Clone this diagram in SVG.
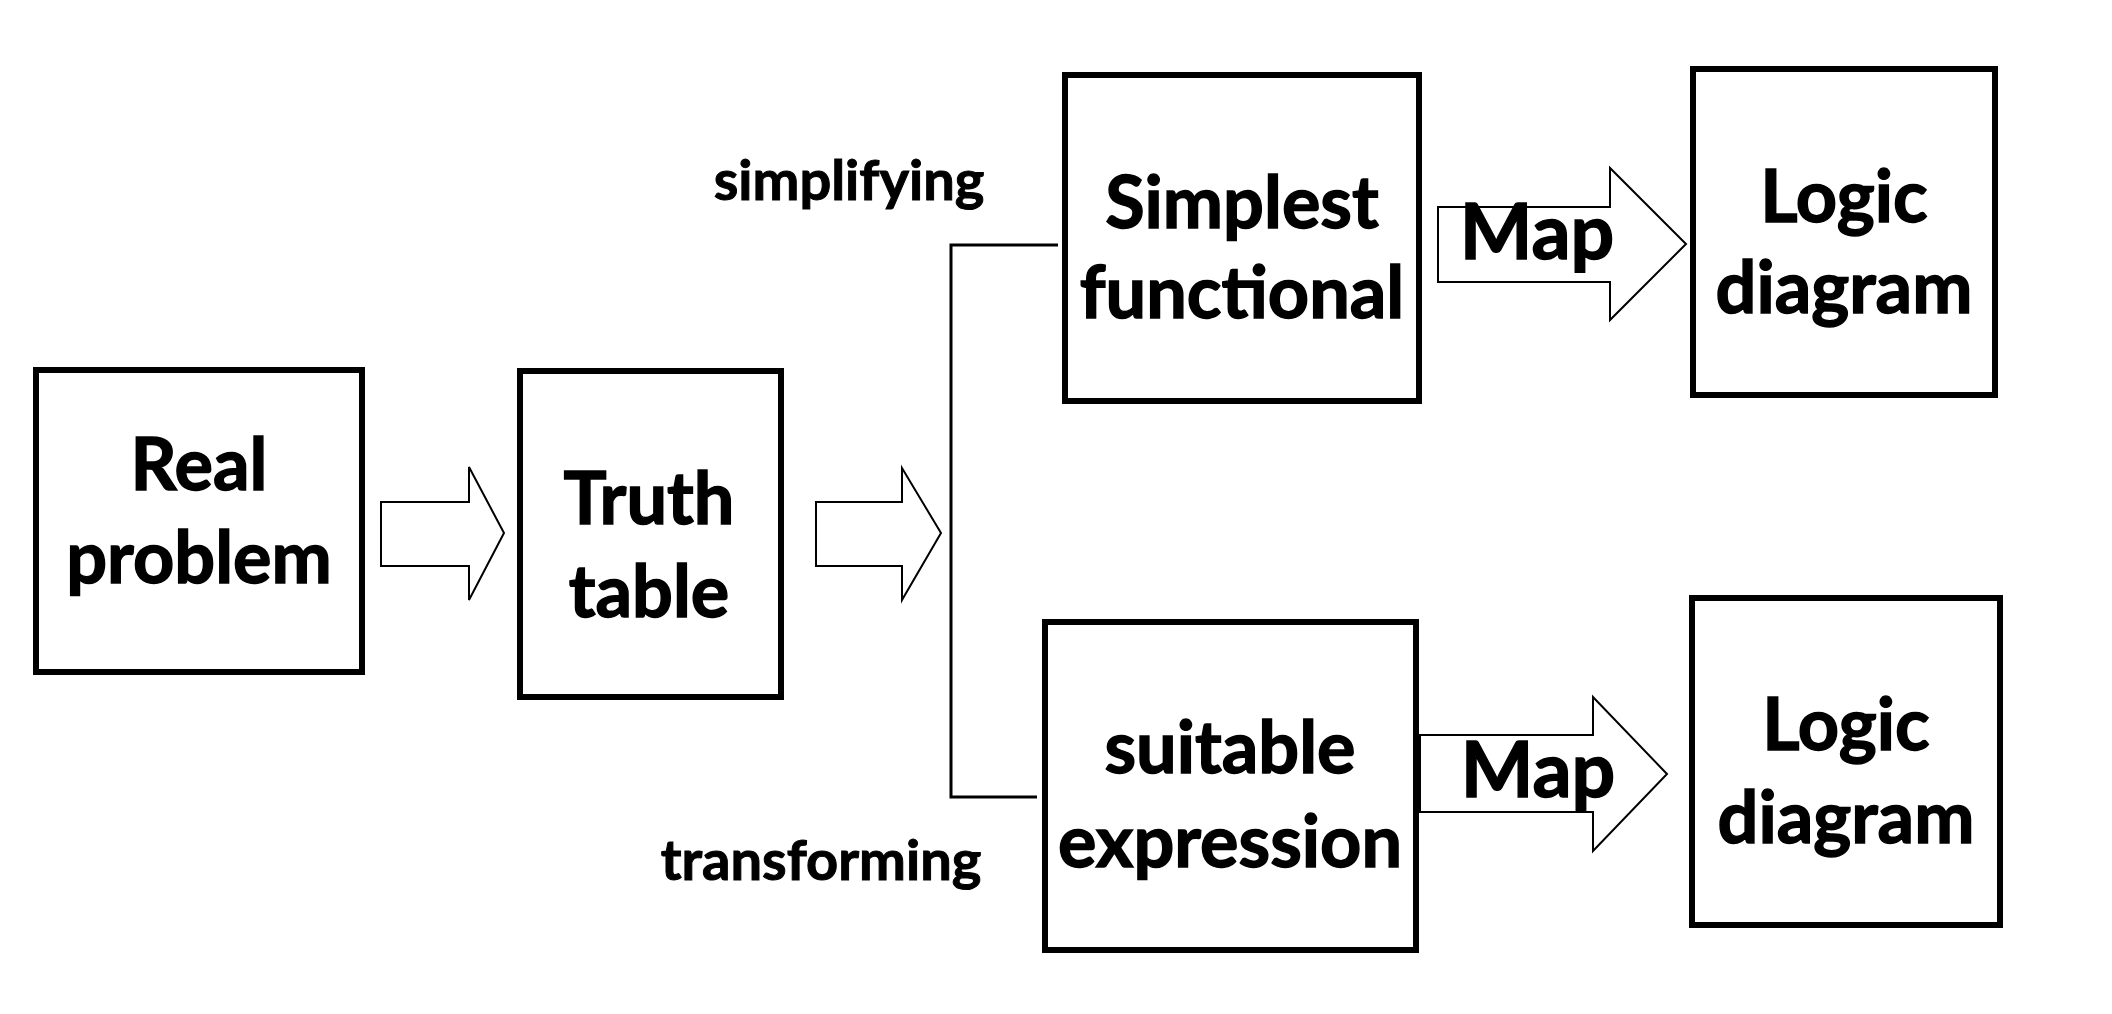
<svg xmlns="http://www.w3.org/2000/svg" width="2112" height="1014" viewBox="0 0 2112 1014">
  <style>
    .box { fill: #ffffff; stroke: #000000; stroke-width: 6; }
    .arrow { fill: #ffffff; stroke: #000000; stroke-width: 2; stroke-linejoin: miter; }
    .line { fill: none; stroke: #000000; stroke-width: 3; }
    .t { font-family: Lato, "Open Sans", "Liberation Sans", sans-serif; font-weight: 700; fill: #000000; stroke: #000000; stroke-width: 1.4; text-anchor: middle; }
    .big { font-size: 72px; }
    .map { font-size: 77px; }
    .lbl { font-size: 56px; stroke-width: 1; }
  </style>
  <rect width="2112" height="1014" fill="#ffffff"/>

  <g id="connectors">
    <polygon class="arrow" points="381,502 469,502 469,467 504,533 469,600 469,566 381,566"/>
    <polygon class="arrow" points="816,502 902,502 902,468 941,533 902,600 902,566 816,566"/>
    <polyline class="line" points="1058,245 951,245 951,797 1037,797"/>
    <polygon class="arrow" points="1438,207 1610,207 1610,168 1686,244 1610,320 1610,282 1438,282"/>
    <polygon class="arrow" points="1420,735 1593,735 1593,697 1667,774 1593,851 1593,812 1420,812"/>
    <text class="t map" x="1537" y="259">Map</text>
    <text class="t map" x="1538" y="797">Map</text>
    <text class="t lbl" x="849" y="200">simplifying</text>
    <text class="t lbl" x="821" y="880">transforming</text>
  </g>

  <g id="real-problem">
    <rect class="box" x="36" y="370" width="326" height="302"/>
    <text class="t big" x="199" y="490">Real</text>
    <text class="t big" x="199" y="583">problem</text>
  </g>

  <g id="truth-table">
    <rect class="box" x="520" y="371" width="261" height="326"/>
    <text class="t big" x="649" y="524">Truth</text>
    <text class="t big" x="649" y="617">table</text>
  </g>

  <g id="simplest-functional">
    <rect class="box" x="1065" y="75" width="354" height="326"/>
    <text class="t big" x="1242" y="228">Simplest</text>
    <text class="t big" x="1242" y="318">functional</text>
  </g>

  <g id="logic-diagram-1">
    <rect class="box" x="1693" y="69" width="302" height="326"/>
    <text class="t big" x="1844" y="222">Logic</text>
    <text class="t big" x="1844" y="313">diagram</text>
  </g>

  <g id="suitable-expression">
    <rect class="box" x="1045" y="622" width="371" height="328"/>
    <text class="t big" x="1230" y="773">suitable</text>
    <text class="t big" x="1230" y="867">expression</text>
  </g>

  <g id="logic-diagram-2">
    <rect class="box" x="1692" y="598" width="308" height="327"/>
    <text class="t big" x="1846" y="750">Logic</text>
    <text class="t big" x="1846" y="843">diagram</text>
  </g>
</svg>
